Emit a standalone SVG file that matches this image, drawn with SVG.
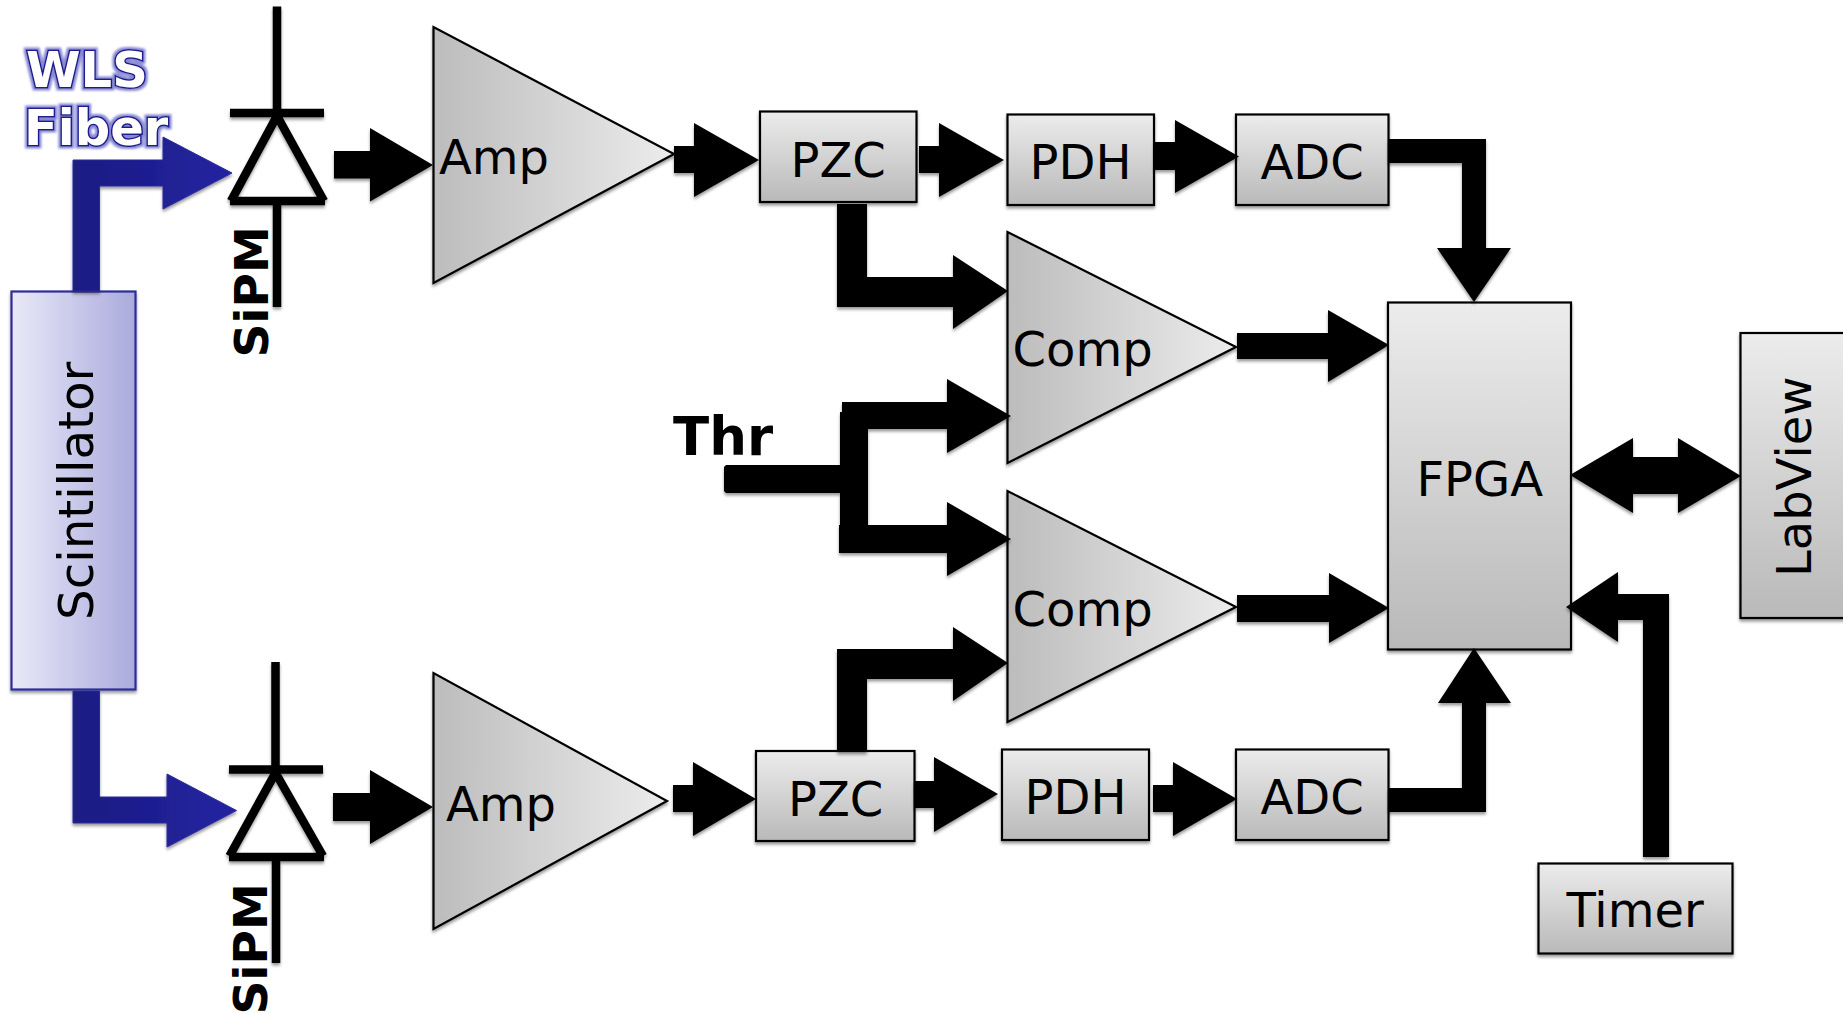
<svg xmlns="http://www.w3.org/2000/svg" width="1843" height="1013" viewBox="0 0 1843 1013">
<style>
text{font-family:"DejaVu Sans",sans-serif;font-size:48px;fill:#000}
.b{font-weight:bold}
.box{fill:url(#gv);stroke:#000;stroke-width:2.2;filter:url(#sh)}
.tri{fill:url(#gh);stroke:#000;stroke-width:2.2;filter:url(#sh)}
.ar{fill:#000;filter:url(#sh)}
.fb{fill:url(#gb);stroke:#2b2b9e;stroke-width:1;filter:url(#sh)}
.wire{stroke:#000;stroke-width:8.5;fill:none;stroke-linecap:butt}
.wls{font-weight:bold;font-size:49.500px;fill:#fff;stroke:#1c1c8c;stroke-width:3;paint-order:stroke;filter:url(#gl)}
</style>
<defs>
<linearGradient id="gv" x1="0" y1="0" x2="0" y2="1"><stop offset="0" stop-color="#ececec"/><stop offset="1" stop-color="#b9b9b9"/></linearGradient>
<linearGradient id="gh" x1="0" y1="0" x2="1" y2="0"><stop offset="0" stop-color="#bcbcbc"/><stop offset="1" stop-color="#ececec"/></linearGradient>
<linearGradient id="gs" x1="0" y1="0" x2="1" y2="0"><stop offset="0" stop-color="#e9e9f8"/><stop offset="1" stop-color="#aaaadd"/></linearGradient>
<linearGradient id="gb" x1="0" y1="0" x2="1" y2="0"><stop offset="0" stop-color="#1a1a82"/><stop offset="1" stop-color="#2424a2"/></linearGradient>
<filter id="sh" x="-20%" y="-20%" width="140%" height="140%"><feDropShadow dx="0" dy="2.5" stdDeviation="1.8" flood-color="#000" flood-opacity=".4"/></filter>
<filter id="gl" x="-10%" y="-20%" width="120%" height="140%"><feMorphology in="SourceAlpha" operator="dilate" radius="1.500" result="m"/><feGaussianBlur in="m" stdDeviation="1.200" result="b"/><feFlood flood-color="#7a7ad0" flood-opacity=".9"/><feComposite in2="b" operator="in" result="c"/><feMerge><feMergeNode in="c"/><feMergeNode in="SourceGraphic"/></feMerge></filter>
</defs>
<rect width="1843" height="1013" fill="#fff"/>

<g id="scintillator"><rect x="11.500" y="291.500" width="124" height="398" fill="url(#gs)" stroke="#2e2e96" stroke-width="2.200" filter="url(#sh)"/><text transform="translate(93,620) rotate(-90)" style="font-size:48.300px">Scintillator</text></g>
<g id="wls-fiber"><text class="wls" x="26" y="87">WLS</text><text class="wls" x="24" y="145">Fiber</text></g>

<g id="sipm-top">
<path class="wire" filter="url(#sh)" d="M277 6.500V113M230 113H324M278 114L231 201M276 114L324 201M230 201H325M277 205V307"/>
<text class="b" transform="translate(267.500,357.500) rotate(-90)" style="font-size:47px">SiPM</text>
</g>
<g id="sipm-bottom">
<path class="wire" filter="url(#sh)" d="M275.500 662V769.500M229 769.500H323M276.500 771L229.500 856M274.500 771L323 856M229 857H324M276 861V963"/>
<text class="b" transform="translate(266.500,1014.500) rotate(-90)" style="font-size:47px">SiPM</text>
</g>

<g id="amp-top"><polygon class="tri" points="433.500,27 433.500,283 674,154"/><text x="439" y="174">Amp</text></g>
<g id="amp-bottom"><polygon class="tri" points="433.500,673 433.500,929 667,801"/><text x="446" y="820.500">Amp</text></g>
<g id="pzc-top"><rect class="box" x="760" y="111.500" width="156.500" height="90.500"/><text x="790.500" y="177">PZC</text></g>
<g id="pdh-top"><rect class="box" x="1007.500" y="114.500" width="146.500" height="90.500"/><text x="1029.500" y="179">PDH</text></g>
<g id="adc-top"><rect class="box" x="1236" y="114.500" width="152.500" height="90.500"/><text x="1260.500" y="179">ADC</text></g>
<g id="comp-top"><polygon class="tri" points="1007.500,232 1007.500,463 1236,347"/><text x="1012.500" y="366">Comp</text></g>
<g id="comp-bottom"><polygon class="tri" points="1007.500,491 1007.500,722 1236,607"/><text x="1012.500" y="626">Comp</text></g>
<g id="pzc-bottom"><rect class="box" x="756" y="751" width="158.500" height="90"/><text x="788" y="816">PZC</text></g>
<g id="pdh-bottom"><rect class="box" x="1002" y="749.500" width="147" height="90.500"/><text x="1024.500" y="813.500">PDH</text></g>
<g id="adc-bottom"><rect class="box" x="1236" y="749.500" width="152.500" height="90.500"/><text x="1260.500" y="813.500">ADC</text></g>
<g id="fpga"><rect class="box" x="1388" y="302.500" width="183" height="347"/><text x="1416.500" y="495.500">FPGA</text></g>
<g id="labview"><rect class="box" x="1740.500" y="333" width="120" height="285"/><text transform="translate(1811,577) rotate(-90)">LabView</text></g>
<g id="timer"><rect class="box" x="1538.500" y="863.500" width="194" height="90"/><text x="1566.500" y="927">Timer</text></g>
<g id="thr"><text class="b" x="673" y="455" style="font-size:53px">Thr</text></g>

<g id="connectors">
<polygon class="fb" points="73,291 73,160 163,160 163,137 232,173 163,209 163,186 99.500,186 99.500,291"/>
<polygon class="fb" points="73,691 73,823 167,823 167,847 236.500,810.500 167,774 167,797 99.500,797 99.500,691"/>
<polygon class="ar" points="334,151 370,151 370,128 433,165 370,201.500 370,178.500 334,178.500"/>
<polygon class="ar" points="333,793 370,793 370,770 433,807 370,844 370,821 333,821"/>
<polygon class="ar" points="674,146 694,146 694,123 759,160 694,197 694,173 674,173"/>
<polygon class="ar" points="919,146 939,146 939,123 1004,160 939,197 939,173 919,173"/>
<polygon class="ar" points="1154,142 1175,142 1175,120 1239,156.500 1175,193 1175,170 1154,170"/>
<polygon class="ar" points="1388,139 1486,139 1486,248 1511,248 1474,302 1437,248 1462,248 1462,163 1388,163"/>
<polygon class="ar" points="837,204 867,204 867,277 953,277 953,255 1008,291 953,329 953,307 837,307"/>
<polygon class="ar" points="724,467 726,465 840,465 840,412 842,412 842,402 947,402 947,379 1011,416 947,453 947,429 868,429 868,525 947,525 947,502 1011,539 947,576 947,553 839,553 839,525 840,525 840,493 726,493 724,491"/>
<polygon class="ar" points="837,752 837,649 953,649 953,627 1008,663 953,701 953,679 867,679 867,752"/>
<polygon class="ar" points="673,785 693,785 693,762 756,799 693,836 693,812 673,812"/>
<polygon class="ar" points="914,781 934,781 934,757 998,794 934,832 934,808 914,808"/>
<polygon class="ar" points="1153,785 1173,785 1173,762 1237,799 1173,836 1173,812 1153,812"/>
<polygon class="ar" points="1237,333 1328,333 1328,310 1389,345 1328,382 1328,359 1237,359"/>
<polygon class="ar" points="1237,595 1329,595 1329,573 1389,608 1329,643 1329,622 1237,622"/>
<polygon class="ar" points="1570,475 1633,438 1633,457 1678,457 1678,438 1741,476 1678,513 1678,494 1633,494 1633,513"/>
<polygon class="ar" points="1643,857 1643,620 1618,620 1618,642 1566,607 1618,572 1618,594 1669,594 1669,857"/>
<polygon class="ar" points="1388,788 1462,788 1462,703 1438,703 1474,648 1511,703 1486,703 1486,812 1388,812"/>
</g>
</svg>
